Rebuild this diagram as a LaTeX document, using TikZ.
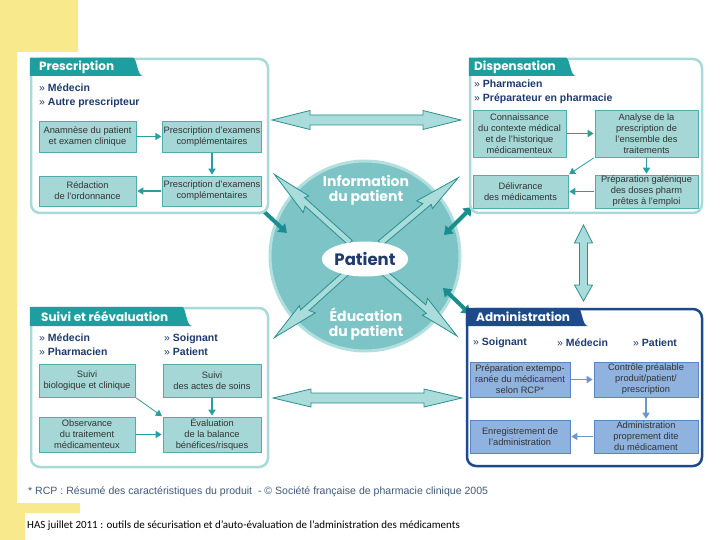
\documentclass[tikz,border=0pt]{standalone}
\usepackage{fontspec}
\setmainfont{Liberation Sans}
\newfontfamily\headfont{Poppins}
\newfontfamily\hasfont{Carlito}
\usetikzlibrary{arrows.meta}
\usetikzlibrary{shapes.geometric}

\definecolor{bandyellow}{HTML}{F8EA8C}
\definecolor{tealhead}{HTML}{1E9E9E}
\definecolor{tealrim}{HTML}{A9DADA}
\definecolor{tealbox}{HTML}{A5D7D7}
\definecolor{tealedge}{HTML}{4FADAD}
\definecolor{tealarrow}{HTML}{2A9E9E}
\definecolor{navytext}{HTML}{1E3A6E}
\definecolor{adminnavy}{HTML}{1D4A8A}
\definecolor{adminbox}{HTML}{8FB2DF}
\definecolor{adminedge}{HTML}{5A85C0}
\definecolor{adminarrow}{HTML}{6C97CC}
\definecolor{circfill}{HTML}{7CC4C5}
\definecolor{circrim}{HTML}{B3DFDF}
\definecolor{boltfill}{HTML}{A9DCDB}
\definecolor{boltedge}{HTML}{2B8F8F}
\definecolor{stubteal}{HTML}{1A8E8E}
\definecolor{notegray}{HTML}{3F5878}

\newcommand{\bullitem}{\textmd{»}\ }

\begin{document}
\begin{tikzpicture}[x=1pt, y=-1pt,
  panel/.style={draw=tealrim, line width=2.5pt, rounded corners=9pt, fill=white},
  adminpanel/.style={panel, draw=adminnavy},
  headtext/.style={text=white, font=\headfont\bfseries\fontsize{12}{12}\selectfont, anchor=west, inner sep=0pt},
  roles/.style={text=navytext, font=\bfseries\fontsize{10.5}{14}\selectfont, align=left, anchor=west, inner sep=0pt},
  tbox/.style={draw=tealedge, fill=tealbox, line width=0.6pt, align=center, inner sep=1pt, text=black!80, font=\fontsize{9.3}{11}\selectfont},
  abox/.style={tbox, draw=adminedge, fill=adminbox},
  flow/.style={draw=tealarrow, line width=1.8pt, -{Triangle[length=6pt,width=7pt]}, shorten <=1pt, shorten >=1pt},
  aflow/.style={flow, draw=adminarrow},
  thinflow/.style={flow, line width=0.8pt},
  circlabel/.style={text=white, align=center, font=\headfont\bfseries\fontsize{14}{15}\selectfont},
  bigarrow/.style={draw=boltedge, fill=boltfill, line width=0.8pt, line join=miter},
  stub/.style={draw=stubteal, line width=4pt, {Triangle[length=8pt,width=11pt]}-{Triangle[length=8pt,width=11pt]}},
  bolt/.pic={\path[bigarrow] (20,-3) -- (78,-3) -- (75,-9) -- (122,0) -- (82,7) -- (84,3) -- (20,3) -- cycle;}
]
\useasboundingbox (0,0) rectangle (720,540);
\fill[bandyellow] (0,0) -- (78,0) -- (78,52) -- (17,52) -- (17,503) -- (80,503) -- (80,513) -- (25,513) -- (25,540) -- (0,540) -- cycle;

% patient circle
\node[circle, fill=circfill, draw=circrim, line width=3pt, minimum size=190pt] (circ) at (365,256) {};
\pic[rotate=138] at (circ.center) {bolt};
\pic[rotate=40] at (circ.center) {bolt};
\pic[rotate=222] at (circ.center) {bolt};
\pic[rotate=319] at (circ.center) {bolt};
\node[ellipse, fill=white, minimum width=80pt, minimum height=35pt, inner sep=0pt, text=navytext,
  font=\headfont\bfseries\fontsize{16.5}{16.5}\selectfont] (patient) at (365,259) {Patient};
\node[circlabel] (info) at (366,190) {Information\\du patient};
\node[circlabel] (educ) at (366,324) {Éducation\\du patient};

\coordinate (presout) at (257,205);
\coordinate (presin) at (287,233);
\coordinate (dispout) at (472,207);
\coordinate (dispin) at (444,235);
\coordinate (adminout) at (470,314);
\coordinate (adminin) at (443,288);
\draw[stub] (presout) -- (presin);
\draw[stub] (dispout) -- (dispin);
\draw[stub] (adminout) -- (adminin);

% Prescription
\node[panel, minimum width=237pt, minimum height=154pt] (pres) at (149.5,136) {};
\fill[tealhead] (29.75,57.75) -- (133,57.75) .. controls (137,57.75) and (137,76) .. (143,76) -- (29.75,76) -- cycle;
\node[headtext] (preshead) at (39,67) {Prescription};
\node[roles] (presroles) at (39,96) {\bullitem Médecin\\\bullitem Autre prescripteur};
\node[tbox, minimum width=97pt, minimum height=31pt] (p1) at (87.5,136.5) {Anamnèse du patient\\et examen clinique};
\node[tbox, minimum width=98pt, minimum height=31pt] (p2) at (212,136.5) {Prescription d'examens\\complémentaires};
\node[tbox, minimum width=98pt, minimum height=30pt] (p3) at (212,191) {Prescription d'examens\\complémentaires};
\node[tbox, minimum width=97pt, minimum height=30pt] (p4) at (87.5,191) {Rédaction\\de l'ordonnance};
\draw[flow] (p1) -- (p2);
\draw[flow] (p2) -- (p3);
\draw[flow] (p3) -- (p4);

% Dispensation
\node[panel, minimum width=232pt, minimum height=154pt] (disp) at (586,136) {};
\fill[tealhead] (468.75,57.75) -- (566,57.75) .. controls (570,57.75) and (570,76) .. (576,76) -- (468.75,76) -- cycle;
\node[headtext] (disphead) at (474,67) {Dispensation};
\node[roles] (disproles) at (474,92) {\bullitem Pharmacien\\\bullitem Préparateur en pharmacie};
\node[tbox, minimum width=93pt, minimum height=47pt] (d1) at (519.5,133.5) {Connaissance\\du contexte médical\\et de l'historique\\médicamenteux};
\node[tbox, minimum width=103pt, minimum height=47pt] (d2) at (646.5,133.5) {Analyse de la\\prescription de\\l'ensemble des\\traitements};
\node[tbox, minimum width=103pt, minimum height=33pt] (d3) at (646.5,191.5) {Préparation galénique\\des doses pharm\\prêtes à l'emploi};
\node[tbox, minimum width=95pt, minimum height=33pt] (d4) at (520.5,191.5) {Délivrance\\des médicaments};
\draw[flow] (d1) -- (d2);
\draw[flow] (d2) -- (d3);
\draw[flow] (d3) -- (d4);
\draw[thinflow] (d2.south west) -- (d4.north east);

% Suivi et reevaluation
\node[panel, minimum width=237pt, minimum height=159pt] (suivi) at (149.5,387.5) {};
\fill[tealhead] (29.75,306.75) -- (182,306.75) .. controls (186,306.75) and (186,326) .. (192,326) -- (29.75,326) -- cycle;
\node[headtext] (suivihead) at (41,316.5) {Suivi et réévaluation};
\node[roles] (suiviroles) at (39,345) {\bullitem Médecin\\\bullitem Pharmacien};
\node[roles] (suiviroles2) at (164,345) {\bullitem Soignant\\\bullitem Patient};
\node[tbox, minimum width=96pt, minimum height=33pt] (s1) at (87,380.5) {Suivi\\biologique et clinique};
\node[tbox, minimum width=98pt, minimum height=33pt] (s2) at (212,380.5) {Suivi\\des actes de soins};
\node[tbox, minimum width=96pt, minimum height=35pt] (s3) at (87,434.5) {Observance\\du traitement\\médicamenteux};
\node[tbox, minimum width=98pt, minimum height=35pt] (s4) at (212,434.5) {Évaluation\\de la balance\\bénéfices/risques};
\draw[thinflow] (s1.south east) -- (s4.north west);
\draw[flow] (s2) -- (s4);
\draw[flow] (s3) -- (s4);

% Administration
\node[adminpanel, minimum width=235pt, minimum height=157pt] (admin) at (584.5,387.5) {};
\fill[adminnavy] (465.75,307.75) -- (578,307.75) .. controls (582,307.75) and (582,326) .. (588,326) -- (465.75,326) -- cycle;
\node[headtext] (adminhead) at (476,317) {Administration};
\node[roles] (adminr1) at (473,343) {\bullitem Soignant};
\node[roles] (adminr2) at (557,343) {\bullitem Médecin};
\node[roles] (adminr3) at (633,343) {\bullitem Patient};
\node[abox, minimum width=100pt, minimum height=35pt] (a1) at (520,379.5) {Préparation extempo-\\ranée du médicament\\selon RCP*};
\node[abox, minimum width=104pt, minimum height=35pt] (a2) at (646,379.5) {Contrôle préalable\\produit/patient/\\prescription};
\node[abox, minimum width=104pt, minimum height=33pt] (a3) at (646,436.5) {Administration\\proprement dite\\du médicament};
\node[abox, minimum width=100pt, minimum height=33pt] (a4) at (520,436.5) {Enregistrement de\\l'administration};
\draw[aflow] (a1) -- (a2);
\draw[aflow] (a2) -- (a3);
\draw[aflow] (a3) -- (a4);

% block arrows between panels
\path[bigarrow] (272,120) -- (310,110.5) -- (310,115) -- (423,115) -- (423,110.5) -- (461,120) -- (423,129.5) -- (423,125) -- (310,125) -- (310,129.5) -- cycle;
\path[bigarrow] (273,398) -- (311,389) -- (311,393) -- (424,393) -- (424,389) -- (462,398) -- (424,407) -- (424,403) -- (311,403) -- (311,407) -- cycle;
\path[bigarrow] (583.5,225) -- (592.5,243) -- (587.5,243) -- (587.5,285) -- (592.5,285) -- (583.5,301) -- (574.5,285) -- (579.5,285) -- (579.5,243) -- (574.5,243) -- cycle;

% footer
\node[anchor=west, inner sep=0pt, text=notegray, font=\fontsize{10.55}{12}\selectfont] (note) at (28,492)
  {* RCP : Résumé des caractéristiques du produit ~- © Société française de pharmacie clinique 2005};
\node[anchor=west, inner sep=0pt, font=\hasfont\fontsize{11}{12}\selectfont] (has) at (27,526)
  {HAS juillet 2011 : outils de sécurisation et d’auto-évaluation de l’administration des médicaments};
\end{tikzpicture}
\end{document}
